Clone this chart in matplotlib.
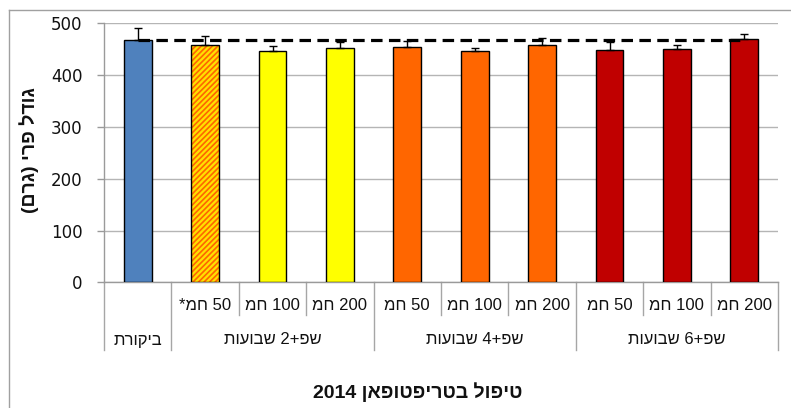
import matplotlib
matplotlib.use("Agg")
import matplotlib.pyplot as plt
from matplotlib.lines import Line2D
from matplotlib.transforms import blended_transform_factory
import re

# ---------------- data ----------------
doses = ["", "50 חמ*", "100 חמ", "200 חמ", "50 חמ", "100 חמ", "200 חמ", "50 חמ", "100 חמ", "200 חמ"]
groups = ["ביקורת", "שפ+2 שבועות", "שפ+4 שבועות", "שפ+6 שבועות"]
group_sizes = [1, 3, 3, 3]
values = [467, 457.5, 446, 452, 455, 446, 459, 448, 450.5, 470]
errors = [24, 18.5, 10, 12, 11, 6, 13, 16, 8.5, 9]
colors = ["#4F81BD", "#FF6600", "#FFFF00", "#FFFF00", "#FF6600", "#FF6600", "#FF6600",
          "#C00000", "#C00000", "#C00000"]
hatched = [False, True, False, False, False, False, False, False, False, False]
y_ticks = [0, 100, 200, 300, 400, 500]
ylabel = "גודל פרי (גרם)"
xlabel = "טיפול בטריפטופאן 2014"


def vis(s):
    """Very small bidi: visual order for an RTL string (digit runs kept LTR)."""
    tokens = re.findall(r"\d+|.", s)
    out = []
    for t in reversed(tokens):
        if t == "(":
            t = ")"
        elif t == ")":
            t = "("
        out.append(t)
    return "".join(out)


HEB = ["Liberation Sans", "DejaVu Sans"]

W, H = 791, 408
fig = plt.figure(figsize=(W / 100, H / 100), dpi=100)
ax = fig.add_axes([104 / W, 1 - 282.3 / H, (778 - 104) / W, (282.3 - 23.3) / H])

x = list(range(len(values)))
ax.set_xlim(-0.5, len(values) - 0.5)
ax.set_ylim(0, 500)

bw = 0.41
plt.rcParams["hatch.linewidth"] = 1.6
for xi, v, c, h in zip(x, values, colors, hatched):
    if h:
        ax.bar(xi, v, width=bw, color=c, edgecolor="#FFE000", hatch="//////", linewidth=0, zorder=3)
        ax.bar(xi, v, width=bw, facecolor="none", edgecolor="black", linewidth=1.0, zorder=4)
    else:
        ax.bar(xi, v, width=bw, color=c, edgecolor="black", linewidth=1.0, zorder=3)

ax.errorbar(x, values, yerr=[[0] * len(errors), errors], fmt="none", ecolor="black",
            elinewidth=1.0, capsize=3, capthick=1.0, zorder=5)

# control reference dashed line
ax.plot([x[0], x[-1]], [values[0], values[0]], color="black", lw=2.3,
        linestyle=(0, (3.6, 2.0)), zorder=6)

# axes styling
ax.set_yticks(y_ticks)
ax.set_yticklabels([str(t) for t in y_ticks], fontsize=12, family="DejaVu Sans", color="#111111")
ax.tick_params(axis="y", length=5, width=1, color="#9A9A9A", pad=10.5)
ax.set_xticks([])
ax.grid(axis="y", color="#B5B5B5", linewidth=1.0, zorder=0)
ax.set_axisbelow(True)
for side in ["top", "right"]:
    ax.spines[side].set_visible(False)
ax.spines["left"].set_color("#9A9A9A")
ax.spines["bottom"].set_color("#9A9A9A")
ax.spines["left"].set_linewidth(1.0)
ax.spines["bottom"].set_linewidth(1.0)

# multi-level category axis
tr = blended_transform_factory(ax.transData, fig.transFigure)
y_axis = 1 - 282.3 / H
y_row1 = 1 - 315 / H
y_row2 = 1 - 350 / H
bounds_full = [-0.5]
acc = -0.5
for n in group_sizes:
    acc += n
    bounds_full.append(acc)
for b in [i - 0.5 for i in range(len(values) + 1)]:
    yb = y_row2 if b in bounds_full else y_row1
    ax.add_artist(Line2D([b, b], [y_axis, yb], transform=tr, color="#A6A6A6",
                         lw=1.0, clip_on=False))

for xi, d in zip(x, doses):
    if d:
        ax.text(xi, 1 - 305 / H, vis(d), transform=tr, ha="center", va="center",
                fontsize=12, family=HEB, color="#111111")

start = 0
for g, n in zip(groups, group_sizes):
    cx = start + (n - 1) / 2
    ax.text(cx, 1 - 340 / H, vis(g), transform=tr, ha="center", va="center",
            fontsize=12, family=HEB, color="#111111")
    start += n

fig.text(418 / W, 1 - 392 / H, vis(xlabel), ha="center", va="center", fontsize=14,
         fontweight="bold", family=HEB, color="#111111")
fig.text(29 / W, 1 - 150 / H, vis(ylabel), ha="center", va="center", rotation=90,
         fontsize=14, fontweight="bold", family=HEB, color="#111111")

# outer chart frame (left and top edges visible)
fig.add_artist(Line2D([8.5 / W, 8.5 / W], [0, 1 - 10 / H], transform=fig.transFigure,
                      color="#A0A0A0", lw=1.0))
fig.add_artist(Line2D([8.5 / W, 1], [1 - 10 / H, 1 - 10 / H], transform=fig.transFigure,
                      color="#A0A0A0", lw=1.0))

fig.savefig("out.png", dpi=100)
